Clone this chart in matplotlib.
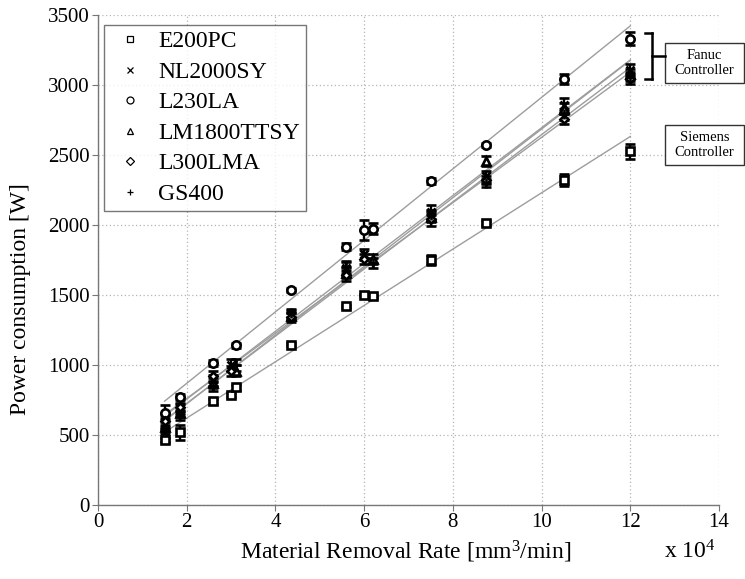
import numpy as np
import matplotlib
matplotlib.use("Agg")
import matplotlib.pyplot as plt
from matplotlib.lines import Line2D
from matplotlib.patches import Rectangle

plt.rcParams['font.family'] = ['Liberation Serif', 'DejaVu Serif']
plt.rcParams['mathtext.fontset'] = 'custom'
plt.rcParams['mathtext.rm'] = 'Liberation Serif'
plt.rcParams['mathtext.it'] = 'Liberation Serif:italic'

# Material removal rate in units of 1e4 mm^3/min, power in W
machines = ["E200PC", "NL2000SY", "L230LA", "LM1800TTSY", "L300LMA", "GS400"]
markers = ["s", "x", "o", "^", "D", "+"]
marker_sizes = [6, 6, 6, 6, 4.5, 7]

e200pc_x = [1.5, 1.85, 2.6, 3.0, 3.1, 4.35, 5.6, 6.0, 6.2, 7.5, 8.75, 10.5, 12.0]
e200pc_y = [465, 520, 740, 785, 840, 1145, 1420, 1500, 1490, 1750, 2015, 2320, 2525]
e200pc_err = [15, 55, 15, 15, 15, 10, 10, 10, 10, 35, 15, 45, 55]

nl2000sy_x = [1.5, 1.85, 2.6, 3.0, 4.35, 5.6, 6.0, 7.5, 8.75, 10.5, 12.0]
nl2000sy_y = [580, 690, 890, 1000, 1360, 1690, 1790, 2090, 2350, 2860, 3110]
nl2000sy_err = [40, 35, 40, 40, 30, 45, 40, 50, 35, 45, 40]

l230la_x = [1.5, 1.85, 2.6, 3.1, 4.35, 5.6, 6.0, 6.2, 7.5, 8.75, 10.5, 12.0]
l230la_y = [660, 770, 1015, 1140, 1535, 1845, 1965, 1975, 2315, 2570, 3040, 3330]
l230la_err = [55, 20, 20, 20, 15, 25, 70, 40, 20, 15, 35, 45]

lm1800ttsy_x = [1.5, 1.85, 2.6, 3.1, 4.35, 5.6, 6.2, 7.5, 8.75, 10.5, 12.0]
lm1800ttsy_y = [560, 660, 870, 960, 1350, 1660, 1760, 2060, 2455, 2830, 3080]
lm1800ttsy_err = [35, 30, 35, 40, 30, 40, 35, 40, 35, 40, 35]

l300lma_x = [1.5, 1.85, 2.6, 3.0, 4.35, 5.6, 6.0, 7.5, 8.75, 10.5, 12.0]
l300lma_y = [600, 700, 920, 960, 1340, 1640, 1760, 2040, 2320, 2760, 3040]
l300lma_err = [40, 30, 40, 35, 30, 40, 35, 45, 30, 40, 35]

gs400_x = [1.5, 1.85, 2.6, 3.1, 4.35, 5.6, 6.2, 7.5, 8.75, 10.5, 12.0]
gs400_y = [540, 640, 850, 1000, 1370, 1700, 1730, 2070, 2300, 2790, 3060]
gs400_err = [35, 30, 35, 40, 30, 40, 35, 40, 30, 40, 35]

series_x = [e200pc_x, nl2000sy_x, l230la_x, lm1800ttsy_x, l300lma_x, gs400_x]
series_y = [e200pc_y, nl2000sy_y, l230la_y, lm1800ttsy_y, l300lma_y, gs400_y]
series_err = [e200pc_err, nl2000sy_err, l230la_err, lm1800ttsy_err, l300lma_err, gs400_err]

x_ticks = [0, 2, 4, 6, 8, 10, 12, 14]
y_ticks = [0, 500, 1000, 1500, 2000, 2500, 3000, 3500]

W, H = 745, 579


def fx(px):
    return px / W


def fy(py):
    return 1 - py / H


fig = plt.figure(figsize=(W / 100, H / 100), dpi=100)
ax = fig.add_axes([fx(98), fy(505), (719 - 98) / W, (505 - 15) / H])

for x, y, err, m, ms in zip(series_x, series_y, series_err, markers, marker_sizes):
    x = np.asarray(x)
    y = np.asarray(y)
    coef = np.polyfit(x, y, 1)
    xs = np.array([x.min(), x.max()])
    ax.plot(xs, np.polyval(coef, xs), color='#9d9d9d', lw=1.0, zorder=2)
    ax.errorbar(x, y, yerr=err, fmt=m, ls='none', ms=ms, mfc='white', mec='k',
                mew=1.9, ecolor='k', elinewidth=1.7, capsize=3.5, capthick=1.7,
                zorder=3)

ax.set_xlim(0, 14)
ax.set_ylim(0, 3500)
ax.set_xticks(x_ticks)
ax.set_yticks(y_ticks)
ax.grid(True, linestyle=(0, (1, 2)), color='#b5b5b5', lw=0.9)
ax.set_axisbelow(True)
for s in ['top', 'right']:
    ax.spines[s].set_visible(False)
for s in ['left', 'bottom']:
    ax.spines[s].set_color('#777777')
    ax.spines[s].set_linewidth(1.0)
ax.tick_params(direction='out', length=4, color='#777777', labelsize=15, pad=2)

fig.text(fx(21), fy(299), "Power consumption [W]", rotation=90, fontsize=17,
         ha='center', va='center')
fig.text(fx(406), fy(552), r"Material Removal Rate [mm$^{3}$/min]", fontsize=17,
         ha='center', va='center')
fig.text(fx(690), fy(552), r"x 10$^{4}$", fontsize=17, ha='center', va='center')

handles = [Line2D([], [], marker=m, ls='none', color='k', mfc='none',
                  ms=(4 if m == 'D' else 5), mew=0.9)
           for m in markers]
leg = ax.legend(handles, machines, loc='upper left',
                bbox_to_anchor=(fx(104), fy(25)), bbox_transform=fig.transFigure,
                fontsize=17, frameon=True, fancybox=False, borderpad=0.25,
                handlelength=1.7, handletextpad=0.34, labelspacing=0.38,
                borderaxespad=0)
leg.get_frame().set_edgecolor('#555555')
leg.get_frame().set_linewidth(1.0)

# controller annotation boxes
for top, label in [(43, "Fanuc\nController"), (125, "Siemens\nController")]:
    fig.patches.append(Rectangle((fx(665), fy(top + 40)), 79 / W, 40 / H,
                                 transform=fig.transFigure, facecolor='white',
                                 edgecolor='#333333', lw=1.0))
    fig.text(fx(704.5), fy(top + 20), label, fontsize=10.5, ha='center',
             va='center', linespacing=1.25)

# bracket grouping the Fanuc machines
bracket = [((645, 652), (33, 33)), ((652, 652), (33, 79)),
           ((645, 652), (79, 79)), ((652, 665), (56, 56))]
for (x0, x1), (y0, y1) in bracket:
    fig.add_artist(Line2D([fx(x0), fx(x1)], [fy(y0), fy(y1)],
                          transform=fig.transFigure, color='k', lw=1.8))

fig.savefig("out.png", dpi=100)
